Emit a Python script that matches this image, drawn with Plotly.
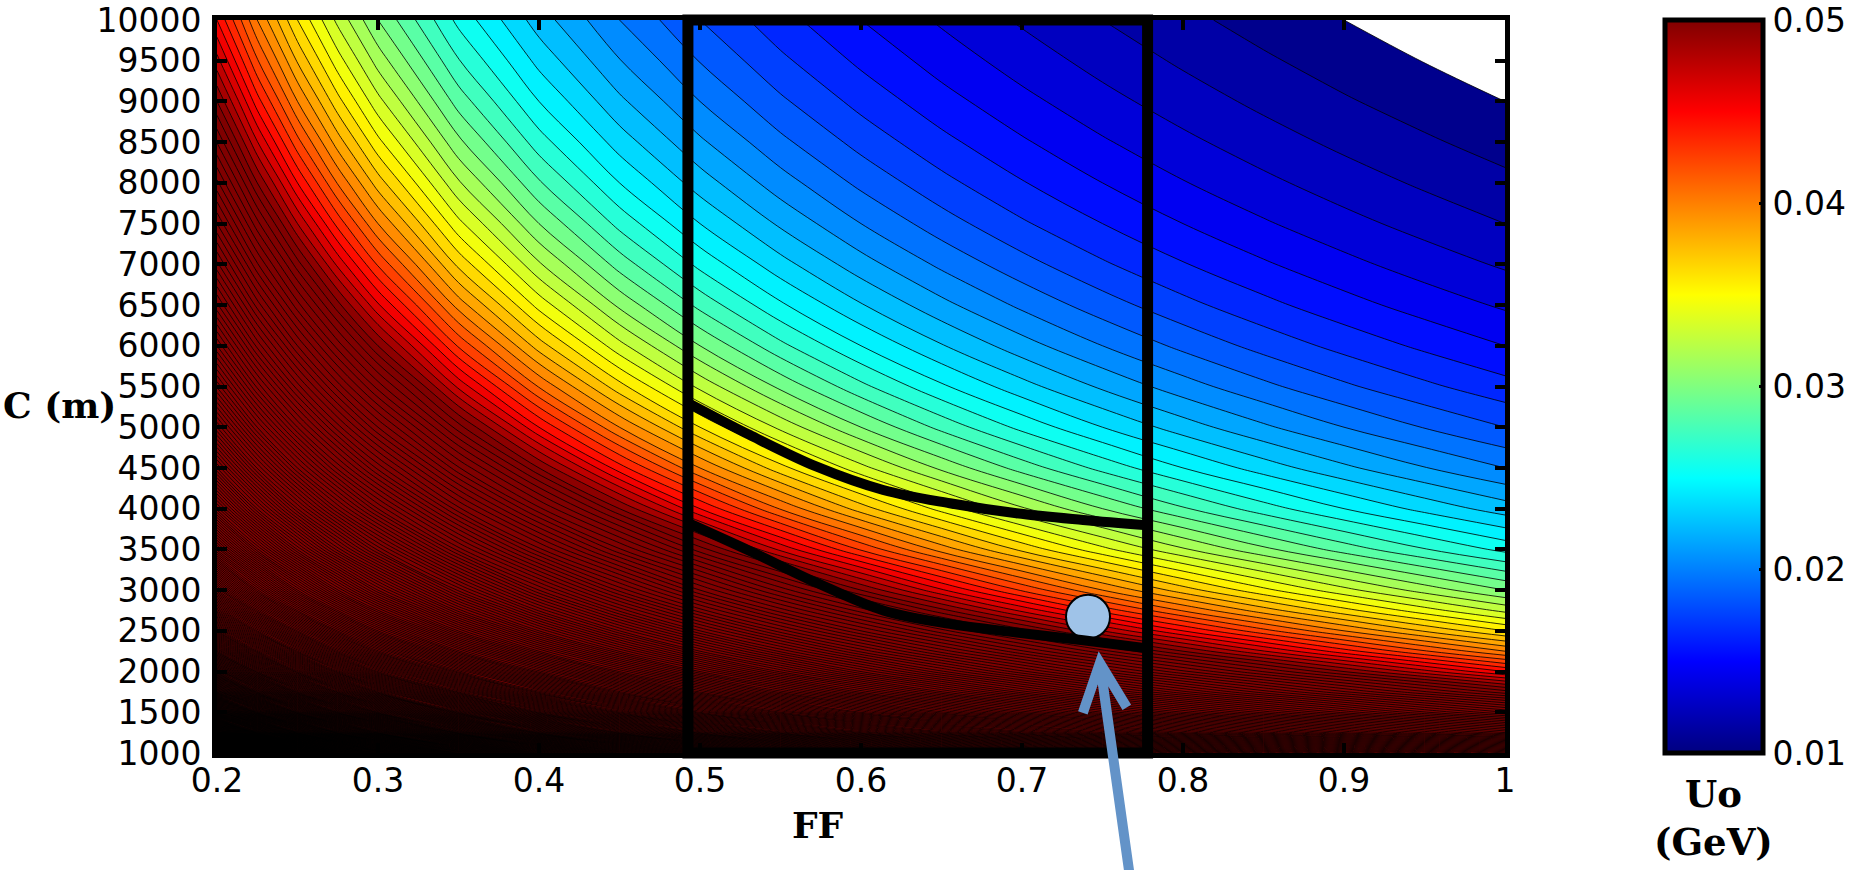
import plotly.graph_objects as go

# ---------------- data ----------------
ff = [0.2, 0.225, 0.25, 0.275, 0.3, 0.35, 0.4, 0.45, 0.5, 0.55, 0.6, 0.65,
      0.7, 0.75, 0.8, 0.85, 0.9, 0.95, 1.0]
c_m = [1000, 1250, 1500, 1750, 2000, 2250, 2500, 2750, 3000, 3500, 4000, 4500,
       5000, 5500, 6000, 6500, 7000, 7500, 8000, 8500, 9000, 9500, 10000]

# Uo (GeV), one row per C value (ascending), one column per FF value
uo = [
    [0.45, 0.4, 0.36, 0.3273, 0.3, 0.2571, 0.225, 0.2, 0.18, 0.1636, 0.15, 0.1385, 0.1286, 0.12, 0.1125, 0.1059, 0.1, 0.09474, 0.09],
    [0.36, 0.32, 0.288, 0.2618, 0.24, 0.2057, 0.18, 0.16, 0.144, 0.1309, 0.12, 0.1108, 0.1029, 0.096, 0.09, 0.08471, 0.08, 0.07579, 0.072],
    [0.3, 0.2667, 0.24, 0.2182, 0.2, 0.1714, 0.15, 0.1333, 0.12, 0.1091, 0.1, 0.09231, 0.08571, 0.08, 0.075, 0.07059, 0.06667, 0.06316, 0.06],
    [0.2571, 0.2286, 0.2057, 0.187, 0.1714, 0.1469, 0.1286, 0.1143, 0.1029, 0.09351, 0.08571, 0.07912, 0.07347, 0.06857, 0.06429, 0.0605, 0.05714, 0.05414, 0.05143],
    [0.225, 0.2, 0.18, 0.1636, 0.15, 0.1286, 0.1125, 0.1, 0.09, 0.08182, 0.075, 0.06923, 0.06429, 0.06, 0.05625, 0.05294, 0.05, 0.04737, 0.045],
    [0.2, 0.1778, 0.16, 0.1455, 0.1333, 0.1143, 0.1, 0.08889, 0.08, 0.07273, 0.06667, 0.06154, 0.05714, 0.05333, 0.05, 0.04706, 0.04444, 0.04211, 0.04],
    [0.18, 0.16, 0.144, 0.1309, 0.12, 0.1029, 0.09, 0.08, 0.072, 0.06545, 0.06, 0.05538, 0.05143, 0.048, 0.045, 0.04235, 0.04, 0.03789, 0.036],
    [0.1636, 0.1455, 0.1309, 0.119, 0.1091, 0.09351, 0.08182, 0.07273, 0.06545, 0.0595, 0.05455, 0.05035, 0.04675, 0.04364, 0.04091, 0.0385, 0.03636, 0.03445, 0.03273],
    [0.15, 0.1333, 0.12, 0.1091, 0.1, 0.08571, 0.075, 0.06667, 0.06, 0.05455, 0.05, 0.04615, 0.04286, 0.04, 0.0375, 0.03529, 0.03333, 0.03158, 0.03],
    [0.1286, 0.1143, 0.1029, 0.09351, 0.08571, 0.07347, 0.06429, 0.05714, 0.05143, 0.04675, 0.04286, 0.03956, 0.03673, 0.03429, 0.03214, 0.03025, 0.02857, 0.02707, 0.02571],
    [0.1125, 0.1, 0.09, 0.08182, 0.075, 0.06429, 0.05625, 0.05, 0.045, 0.04091, 0.0375, 0.03462, 0.03214, 0.03, 0.02813, 0.02647, 0.025, 0.02368, 0.0225],
    [0.1, 0.08889, 0.08, 0.07273, 0.06667, 0.05714, 0.05, 0.04444, 0.04, 0.03636, 0.03333, 0.03077, 0.02857, 0.02667, 0.025, 0.02353, 0.02222, 0.02105, 0.02],
    [0.09, 0.08, 0.072, 0.06545, 0.06, 0.05143, 0.045, 0.04, 0.036, 0.03273, 0.03, 0.02769, 0.02571, 0.024, 0.0225, 0.02118, 0.02, 0.01895, 0.018],
    [0.08182, 0.07273, 0.06545, 0.0595, 0.05455, 0.04675, 0.04091, 0.03636, 0.03273, 0.02975, 0.02727, 0.02517, 0.02338, 0.02182, 0.02045, 0.01925, 0.01818, 0.01722, 0.01636],
    [0.075, 0.06667, 0.06, 0.05455, 0.05, 0.04286, 0.0375, 0.03333, 0.03, 0.02727, 0.025, 0.02308, 0.02143, 0.02, 0.01875, 0.01765, 0.01667, 0.01579, 0.015],
    [0.06923, 0.06154, 0.05538, 0.05035, 0.04615, 0.03956, 0.03462, 0.03077, 0.02769, 0.02517, 0.02308, 0.0213, 0.01978, 0.01846, 0.01731, 0.01629, 0.01538, 0.01457, 0.01385],
    [0.06429, 0.05714, 0.05143, 0.04675, 0.04286, 0.03673, 0.03214, 0.02857, 0.02571, 0.02338, 0.02143, 0.01978, 0.01837, 0.01714, 0.01607, 0.01513, 0.01429, 0.01353, 0.01286],
    [0.06, 0.05333, 0.048, 0.04364, 0.04, 0.03429, 0.03, 0.02667, 0.024, 0.02182, 0.02, 0.01846, 0.01714, 0.016, 0.015, 0.01412, 0.01333, 0.01263, 0.012],
    [0.05625, 0.05, 0.045, 0.04091, 0.0375, 0.03214, 0.02813, 0.025, 0.0225, 0.02045, 0.01875, 0.01731, 0.01607, 0.015, 0.01406, 0.01324, 0.0125, 0.01184, 0.01125],
    [0.05294, 0.04706, 0.04235, 0.0385, 0.03529, 0.03025, 0.02647, 0.02353, 0.02118, 0.01925, 0.01765, 0.01629, 0.01513, 0.01412, 0.01324, 0.01246, 0.01176, 0.01115, 0.01059],
    [0.05, 0.04444, 0.04, 0.03636, 0.03333, 0.02857, 0.025, 0.02222, 0.02, 0.01818, 0.01667, 0.01538, 0.01429, 0.01333, 0.0125, 0.01176, 0.01111, 0.01053, 0.01],
    [0.04737, 0.04211, 0.03789, 0.03445, 0.03158, 0.02707, 0.02368, 0.02105, 0.01895, 0.01722, 0.01579, 0.01457, 0.01353, 0.01263, 0.01184, 0.01115, 0.01053, 0.00997, 0.009474],
    [0.045, 0.04, 0.036, 0.03273, 0.03, 0.02571, 0.0225, 0.02, 0.018, 0.01636, 0.015, 0.01385, 0.01286, 0.012, 0.01125, 0.01059, 0.01, 0.009474, 0.009],
]

# highlighted FF window and the two thick boundary curves inside it
ff_window = [0.4925, 0.778]
curve_ff = [0.4925, 0.531, 0.5725, 0.6138, 0.6552, 0.6966, 0.738, 0.778]
upper_c = [5300, 4904, 4515, 4229, 4066, 3943, 3861, 3795]
lower_c = [3825, 3480, 3090, 2750, 2585, 2480, 2385, 2285]

# chosen design point
point_ff = [0.741]
point_c = [2673]

# arrow (x in FF units, y in fraction of plot height)
arrow_tip = (0.7484, 0.1228)
arrow_tail = (0.7690, -0.20)
arrow_left = (0.7378, 0.0546)
arrow_right = (0.7651, 0.0623)

x_ticks = [0.2, 0.3, 0.4, 0.5, 0.6, 0.7, 0.8, 0.9, 1.0]
x_ticktext = ["0.2", "0.3", "0.4", "0.5", "0.6", "0.7", "0.8", "0.9", "1"]
y_ticks = [1000, 1500, 2000, 2500, 3000, 3500, 4000, 4500, 5000, 5500,
           6000, 6500, 7000, 7500, 8000, 8500, 9000, 9500, 10000]
y_ticktext = [str(v) for v in y_ticks]
cb_ticks = [0.01, 0.02, 0.03, 0.04, 0.05]
cb_ticktext = ["0.01", "0.02", "0.03", "0.04", "0.05"]

# ---------------- styling ----------------
jet = [(0.0, (0, 0, 128)), (0.125, (0, 0, 255)), (0.375, (0, 255, 255)),
       (0.625, (255, 255, 0)), (0.875, (255, 0, 0)), (1.0, (128, 0, 0))]
cb_min, cb_max = 0.01, 0.05
lvl_start, lvl_end, lvl_step = 0.01, 0.45, 0.001

jet_cs = [[p, "rgb(%d,%d,%d)" % c] for p, c in jet]

lo = lvl_start - lvl_step / 2
hi = lvl_end + lvl_step / 2


def frac(v):
    return (v - lo) / (hi - lo)


contour_cs = [[0.0, "white"], [frac(cb_min) - 1e-6, "white"]]
for p, c in jet:
    contour_cs.append([frac(cb_min + p * (cb_max - cb_min)), "rgb(%d,%d,%d)" % c])
contour_cs.append([1.0, "rgb(128,0,0)"])

tick_font = dict(family="DejaVu Sans", size=33, color="black")
title_font = dict(family="DejaVu Serif", size=36, color="black")

fig = go.Figure()

fig.add_trace(go.Contour(
    x=ff, y=c_m, z=uo,
    colorscale=contour_cs,
    autocontour=False,
    contours=dict(start=lvl_start, end=lvl_end, size=lvl_step,
                  coloring="fill", showlines=True),
    line=dict(color="black", width=0.8, smoothing=1),
    showscale=False, hoverinfo="skip",
))

# colour bar carrier (lies outside the visible axis range)
fig.add_trace(go.Heatmap(
    z=[[cb_min, cb_max]], x=[-1.0, -0.9], y=[0, 1],
    colorscale=jet_cs, zmin=cb_min, zmax=cb_max, hoverinfo="skip",
    showscale=True,
    colorbar=dict(
        x=1.1242, xanchor="left", xpad=0,
        y=0.5, yanchor="middle", len=1, lenmode="fraction", ypad=0,
        thickness=98, outlinewidth=5, outlinecolor="black",
        ticks="inside", ticklen=6, tickwidth=3, tickcolor="black",
        tickvals=cb_ticks, ticktext=cb_ticktext, tickfont=tick_font,
    ),
))

fig.add_trace(go.Scatter(
    x=point_ff, y=point_c, mode="markers",
    marker=dict(size=44, color="#9fc3e8", line=dict(color="black", width=2)),
    hoverinfo="skip", showlegend=False,
))

for cc in (upper_c, lower_c):
    fig.add_trace(go.Scatter(
        x=curve_ff, y=cc, mode="lines",
        line=dict(color="black", width=10, shape="spline", smoothing=1),
        hoverinfo="skip", showlegend=False,
    ))

# highlight rectangle
fig.add_shape(type="rect", xref="x", yref="paper",
              x0=ff_window[0], x1=ff_window[1], y0=0, y1=1,
              line=dict(color="black", width=11), fillcolor="rgba(0,0,0,0)")

# arrow
arrow_path = (f"M {arrow_tail[0]},{arrow_tail[1]} L {arrow_tip[0]},{arrow_tip[1]} "
              f"M {arrow_left[0]},{arrow_left[1]} L {arrow_tip[0]},{arrow_tip[1]} "
              f"L {arrow_right[0]},{arrow_right[1]}")
fig.add_shape(type="path", xref="x", yref="paper", path=arrow_path,
              line=dict(color="#6393c8", width=10))

axis_common = dict(
    showline=True, linewidth=5, linecolor="black", mirror="ticks",
    ticks="inside", ticklen=10, tickwidth=4, tickcolor="black",
    showgrid=False, zeroline=False, tickfont=tick_font,
)
fig.update_xaxes(range=[0.2, 1.0], tickvals=x_ticks, ticktext=x_ticktext,
                 ticklabelstandoff=-6, **axis_common)
fig.update_yaxes(range=[1000, 10000], tickvals=y_ticks, ticktext=y_ticktext,
                 ticklabelstandoff=4, **axis_common)

fig.add_annotation(text="<b>C (m)</b>", xref="paper", yref="paper",
                   x=-0.1219, y=0.4748, xanchor="center", yanchor="middle",
                   showarrow=False, font=title_font)
fig.add_annotation(text="<b>FF</b>", xref="paper", yref="paper",
                   x=0.4666, y=-0.0982, xanchor="center", yanchor="middle",
                   showarrow=False, font=title_font)
fig.add_annotation(text="<b>Uo</b><br><b>(GeV)</b>", xref="paper", yref="paper",
                   x=1.1615, y=-0.0887, xanchor="center", yanchor="middle",
                   showarrow=False, font=dict(family="DejaVu Serif", size=37, color="black"))

fig.update_layout(
    width=1872, height=870,
    margin=dict(l=217, r=367, t=20, b=117, autoexpand=False),
    paper_bgcolor="white", plot_bgcolor="white",
    showlegend=False,
)

fig.write_html("out.html")
